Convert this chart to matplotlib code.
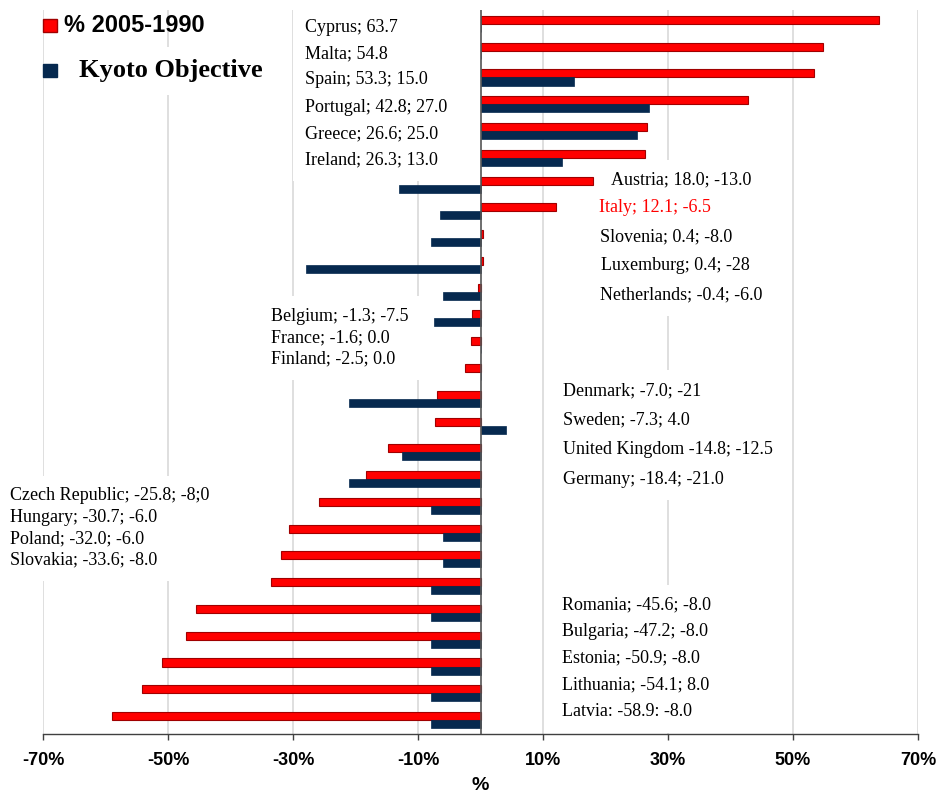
import matplotlib
matplotlib.use('Agg')
import matplotlib.pyplot as plt
from matplotlib.patches import Rectangle
from matplotlib.transforms import Bbox
import numpy as np

# data, top to bottom
countries = ['Cyprus', 'Malta', 'Spain', 'Portugal', 'Greece', 'Ireland',
             'Austria', 'Italy', 'Slovenia', 'Luxemburg', 'Netherlands',
             'Belgium', 'France', 'Finland',
             'Denmark', 'Sweden', 'United Kingdom', 'Germany',
             'Czech Republic', 'Hungary', 'Poland', 'Slovakia',
             'Romania', 'Bulgaria', 'Estonia', 'Lithuania', 'Latvia']
change_2005_1990 = [63.7, 54.8, 53.3, 42.8, 26.6, 26.3,
                    18.0, 12.1, 0.4, 0.4, -0.4,
                    -1.3, -1.6, -2.5,
                    -7.0, -7.3, -14.8, -18.4,
                    -25.8, -30.7, -32.0, -33.6,
                    -45.6, -47.2, -50.9, -54.1, -58.9]
kyoto_objective = [0.0, 0.0, 15.0, 27.0, 25.0, 13.0,
                   -13.0, -6.5, -8.0, -28.0, -6.0,
                   -7.5, 0.0, 0.0,
                   -21.0, 4.0, -12.5, -21.0,
                   -8.0, -6.0, -6.0, -8.0,
                   -8.0, -8.0, -8.0, -8.0, -8.0]
labels = ['Cyprus; 63.7', 'Malta; 54.8', 'Spain; 53.3; 15.0',
          'Portugal; 42.8; 27.0', 'Greece; 26.6; 25.0', 'Ireland; 26.3; 13.0',
          'Austria; 18.0; -13.0', 'Italy; 12.1; -6.5', 'Slovenia; 0.4; -8.0',
          'Luxemburg; 0.4; -28', 'Netherlands; -0.4; -6.0',
          'Belgium; -1.3; -7.5', 'France; -1.6; 0.0', 'Finland; -2.5; 0.0',
          'Denmark; -7.0; -21', 'Sweden; -7.3; 4.0',
          'United Kingdom -14.8; -12.5', 'Germany; -18.4; -21.0',
          'Czech Republic; -25.8; -8;0', 'Hungary; -30.7; -6.0',
          'Poland; -32.0; -6.0', 'Slovakia; -33.6; -8.0',
          'Romania; -45.6; -8.0', 'Bulgaria; -47.2; -8.0',
          'Estonia; -50.9; -8.0', 'Lithuania; -54.1; 8.0',
          'Latvia: -58.9: -8.0']
x_ticks = [-70, -50, -30, -10, 10, 30, 50, 70]

# label placement (pixels in the 941x796 image) and groups sharing a white box
label_xy = [(305, 27), (305, 54), (305, 80), (305, 107), (305, 134), (305, 160),
            (611, 180), (599, 208), (600, 237), (601, 266), (600, 295),
            (271, 316), (271, 338), (271, 359),
            (563, 391), (563, 420), (563, 450), (563, 479),
            (10, 496), (10, 518), (10, 539), (10, 560),
            (562, 605), (562, 632), (562, 658), (562, 685), (562, 712)]
groups = [range(0, 6), range(6, 11), range(11, 14), range(14, 18),
          range(18, 22), range(22, 27)]

W, H = 941, 796
RED = '#FF0000'
RED_EDGE = '#A00000'
BLUE = '#06294F'

fig = plt.figure(figsize=(W / 100, H / 100), dpi=100)
ax = fig.add_axes([43 / W, 1 - 734 / H, 875 / W, 724 / H])

rows = np.arange(len(countries))
bh = 0.3
ax.barh(rows - bh / 2, change_2005_1990, height=bh, color=RED,
        edgecolor=RED_EDGE, linewidth=0.8, zorder=3)
ax.barh(rows + bh / 2, kyoto_objective, height=bh, color=BLUE,
        edgecolor=BLUE, linewidth=0.5, zorder=3)

ax.axvline(0, color='#555555', linewidth=1.2, zorder=4)

ax.set_xlim(-70, 70)
ax.set_ylim(len(countries) - 0.48, -0.52)
ax.set_xticks(x_ticks)
ax.set_xticklabels([f'{t}%' for t in x_ticks], fontfamily='Liberation Sans',
                   fontweight='bold', fontsize=13)
ax.set_yticks([])
ax.tick_params(axis='x', direction='out', length=4, width=1, color='#404040', pad=9)
ax.grid(axis='x', color='#D9D9D9', linewidth=1.2, zorder=0)
ax.set_axisbelow(True)
for s in ['top', 'right', 'left']:
    ax.spines[s].set_visible(False)
ax.spines['bottom'].set_color('#404040')
ax.spines['bottom'].set_linewidth(1)

fig.text(480 / W, 1 - 786 / H, '%', ha='center', va='center',
         fontfamily='Liberation Sans', fontweight='bold', fontsize=14)

# country labels
texts = []
for i, lab in enumerate(labels):
    x, y = label_xy[i]
    col = RED if countries[i] == 'Italy' else 'black'
    t = ax.text(x / W, 1 - y / H, lab, transform=fig.transFigure,
                ha='left', va='center', fontfamily='Liberation Serif',
                fontsize=13, color=col, zorder=5)
    texts.append(t)

# legend
fig.patches.append(Rectangle((43 / W, 1 - 32 / H), 14 / W, 13 / H,
                             transform=fig.transFigure, facecolor=RED,
                             edgecolor=RED_EDGE, linewidth=1))
fig.patches.append(Rectangle((43 / W, 1 - 77 / H), 14 / W, 13 / H,
                             transform=fig.transFigure, facecolor=BLUE,
                             edgecolor=BLUE, linewidth=1))
fig.text(64 / W, 1 - 26 / H, '% 2005-1990', ha='left', va='center',
         fontfamily='Liberation Sans', fontweight='bold', fontsize=17)
kyoto = ax.text(79 / W, 1 - 71 / H, 'Kyoto Objective', transform=fig.transFigure,
                ha='left', va='center', fontfamily='Liberation Serif',
                fontweight='bold', fontsize=19, zorder=5)

# white boxes behind the label groups (they hide the grid lines)
fig.canvas.draw()
r = fig.canvas.get_renderer()
inv = fig.transFigure.inverted()
boxes = [Bbox.union([texts[i].get_window_extent(r) for i in g]) for g in groups]
boxes.append(kyoto.get_window_extent(r))
for bb in boxes:
    bb = bb.expanded(1.0, 1.0).padded(12)
    (x0, y0), (x1, y1) = inv.transform([[bb.x0, bb.y0], [bb.x1, bb.y1]])
    ax.add_patch(Rectangle((x0, y0), x1 - x0, y1 - y0, transform=fig.transFigure,
                           facecolor='white', edgecolor='none', zorder=1))

fig.savefig('out.png', dpi=100)
